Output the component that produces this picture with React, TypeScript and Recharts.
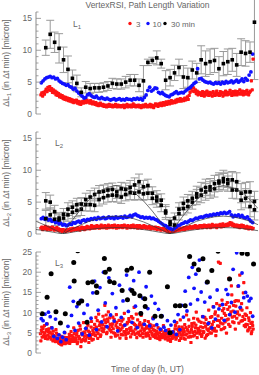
import React from 'react';
import { ComposedChart, Scatter, XAxis, YAxis, ErrorBar } from 'recharts';

const AX = '#8a8a8a';
const TXT = '#666';
const FONT = '"Liberation Sans", Arial, sans-serif';

// ---------- ticks ----------
const xTicks = [0,1,2,3,4,5,6,7,8,9,10,11,12,13,14,15,16,17,18,19,20,21,22,23,24];
const y16Ticks = [0,1,2,3,4,5,6,7,8,9,10,11,12,13,14,15,16];
const y25Ticks = [0,1,2,3,4,5,6,7,8,9,10,11,12,13,14,15,16,17,18,19,20,21,22,23,24,25];

// ---------- panel 1 (L1) ----------
// 3-min series sampled every 0.1 h starting 0.05 h
const l1Red = [
  3.0,3.3,2.8,3.4,3.1,3.6,3.9,3.5,4.2,3.8,
  4.3,3.7,4.0,3.4,3.8,3.3,3.6,3.0,3.4,2.9,
  3.2,2.7,3.0,2.6,2.9,2.4,2.7,2.3,2.6,2.2,
  2.5,2.1,2.4,2.0,2.3,1.9,2.2,1.8,2.1,1.9,
  2.2,1.7,2.0,1.6,1.9,1.5,1.8,2.0,1.7,1.9,
  2.1,1.8,2.2,1.9,2.0,1.7,2.1,1.8,1.6,1.9,
  1.7,1.5,1.8,1.4,1.6,1.3,1.5,1.7,1.4,1.3,
  1.5,1.2,1.4,1.3,1.1,1.4,1.2,1.5,1.3,1.2,
  1.4,1.1,1.3,1.2,1.5,1.3,1.1,1.4,1.2,1.3,
  1.1,1.3,1.2,1.4,1.0,1.3,1.2,1.5,1.1,1.3,
  1.2,1.4,1.1,1.3,1.6,1.2,1.4,1.1,1.3,1.2,
  1.4,1.1,1.3,1.0,1.2,1.4,1.1,1.3,1.5,1.2,
  1.1,1.3,1.2,1.5,1.1,1.4,1.2,1.0,1.3,1.6,
  1.3,1.5,1.2,1.6,1.4,1.7,1.3,1.5,1.8,1.4,
  1.6,1.9,1.5,1.7,2.0,1.6,1.8,2.1,1.7,1.9,
  2.0,1.8,2.2,1.9,2.3,2.0,2.1,2.4,2.0,2.2,
  2.3,2.1,2.5,2.2,2.4,2.7,2.3,2.9,3.4,3.9,
  4.3,3.6,4.1,3.5,3.8,3.2,3.6,3.0,3.4,3.1,
  3.3,2.9,3.5,3.1,2.8,3.4,3.0,3.6,3.2,2.9,
  3.4,3.0,3.3,2.8,3.5,3.1,2.9,3.3,3.6,3.0,
  3.2,2.9,3.5,3.1,3.4,2.8,3.3,3.0,3.6,3.2,
  3.0,3.4,3.1,3.7,3.2,2.9,3.5,3.3,3.0,3.6,
  3.3,3.0,3.5,3.2,3.8,3.1,3.4,3.6,3.0,3.3,
  3.5,3.1,3.7,3.3,3.0,3.4,3.6,5.2,3.8,8.6,
];
// 10-min series sampled every 0.2 h starting 0.1 h
const l1Blue = [
  4.9,5.2,5.5,5.7,5.8, 5.9,5.7,5.8,5.5,5.6, 5.2,5.0,4.8,4.7,4.5, 4.6,4.3,4.2,3.9,4.0,
  3.6,3.3,3.1,2.8,2.5, 2.6,3.0,3.2,2.9,2.7, 2.6,2.8,2.5,2.4,2.6, 2.4,2.3,2.5,2.3,2.2,
  2.3,2.4,2.2,2.3,2.4, 2.2,2.3,2.2,2.4,2.3, 2.3,2.2,2.4,2.3,2.5, 2.3,2.4,2.2,2.6,3.0,
  3.7,4.2,3.6,3.8,4.1, 4.0,3.4,3.2,3.4,3.1, 2.9,2.8,2.7,3.0,3.1, 3.3,3.5,3.2,3.3,3.4,
  3.3,3.6,3.8,4.0,4.2, 4.5,4.8,5.0,7.1,5.5, 5.6,5.3,5.1,5.0,4.9, 5.0,4.8,4.7,4.9,4.8,
  4.9,4.7,5.0,4.8,5.1, 4.9,5.0,5.2,4.9,5.1, 5.3,5.0,5.2,5.5,5.1, 5.6,5.3,6.1,6.6,9.4,
];
// 30-min series at 0.6 h + 0.5 h steps, with error bars
const l1Black = [
  10.4,12.5,11.25,10.3,8.5,7.0,5.6,4.8,3.4,4.2,4.0,4.1,4.1,4.2,4.4,4.8,4.7,4.7,5.0,5.3,5.3,4.5,5.2,
  8.1,8.4,8.8,7.9,5.3,5.7,6.45,7.3,5.8,5.7,6.9,6.45,8.5,7.9,8.2,8.4,7.1,7.9,8.2,8.5,7.7,9.7,9.5,9.7,14.4,
];
const l1BlackErr = [
  1.2,2.2,1.6,2.3,2.0,2.1,1.3,1.3,0.7,0.9,0.8,0.7,0.7,0.7,0.7,0.8,0.8,0.8,0.9,0.9,0.9,1.0,2.4,
  0.5,0.5,1.1,0.7,1.5,1.3,1.2,1.3,1.8,1.5,1.4,1.5,2.2,2.0,2.0,1.9,1.9,1.9,2.0,1.8,1.8,2.1,2.0,1.6,9.0,
];

// ---------- panel 2 (L2) ----------
const l2Red = [
  0.9,1.1,0.7,1.0,0.8,1.2,0.9,0.7,1.1,0.8,
  1.0,0.7,0.9,1.1,0.8,0.6,0.9,0.7,1.0,0.6,
  0.8,0.5,0.7,0.6,0.4,0.7,0.5,0.6,0.4,0.6,
  0.5,0.7,0.6,0.8,0.5,0.7,0.9,0.6,0.8,0.7,
  0.9,0.7,1.0,0.8,0.6,0.9,1.1,0.8,1.0,0.7,
  1.0,0.8,1.2,0.9,1.1,0.8,1.0,1.3,0.9,1.1,
  1.2,0.9,1.1,1.3,1.0,1.2,0.9,1.1,1.4,1.0,
  1.2,1.0,1.3,1.1,0.9,1.2,1.4,1.0,1.2,1.1,
  1.3,1.0,1.2,1.4,1.1,0.9,1.2,1.3,1.0,1.2,
  1.1,1.3,1.0,1.2,1.4,1.1,1.2,0.9,1.3,1.1,
  1.2,1.0,1.3,1.1,1.4,1.0,1.2,1.1,1.3,0.9,
  1.1,1.3,1.0,1.2,0.9,1.1,1.3,1.0,1.2,0.9,
  1.1,0.9,1.2,1.0,0.8,1.1,0.9,1.0,0.8,1.1,
  0.9,0.7,1.0,0.8,0.9,0.6,0.8,0.7,0.9,0.6,
  0.7,0.5,0.6,0.4,0.6,0.3,0.5,0.4,0.6,0.5,
  0.4,0.6,0.5,0.7,0.6,0.8,0.6,0.7,0.9,0.7,
  0.8,1.0,0.7,0.9,1.1,0.8,1.0,0.9,1.2,0.9,
  1.1,0.9,1.2,1.0,1.3,1.1,0.9,1.2,1.0,1.3,
  1.1,1.3,1.0,1.2,1.4,1.1,1.3,1.0,1.2,1.4,
  1.2,1.0,1.3,1.5,1.1,1.3,1.2,1.4,1.0,1.3,
  1.4,1.2,1.5,1.1,1.3,1.6,1.2,1.4,1.3,1.5,
  1.3,1.6,1.4,1.8,1.5,1.7,1.3,1.5,1.2,1.4,
  1.2,1.4,1.1,1.3,1.0,1.2,1.4,1.1,1.3,1.0,
  1.1,0.9,1.2,1.0,0.8,1.1,0.9,1.0,0.8,0.9,
];
const l2Blue = [
  2.4,2.6,2.3,2.5,2.2, 2.3,2.0,2.1,1.8,1.9, 1.6,1.7,1.4,1.5,1.3, 1.4,1.6,1.5,1.8,1.7,
  1.9,2.0,1.8,2.1,2.2, 2.0,2.3,2.2,2.4,2.3, 2.5,2.3,2.6,2.4,2.5, 2.6,2.4,2.5,2.7,2.5,
  2.6,2.4,2.7,2.5,2.6, 2.7,2.5,2.8,2.6,2.7, 2.9,2.7,3.0,3.1,2.9, 2.8,2.6,2.7,2.5,2.6,
  2.5,2.6,2.4,2.5,2.3, 2.2,2.0,1.8,1.6,1.4, 1.3,1.1,0.9,0.8,0.7, 0.9,1.1,1.3,1.4,1.6,
  1.7,1.9,1.8,2.0,2.2, 2.1,2.3,2.5,2.4,2.6, 2.7,2.6,2.8,2.9,2.8, 3.0,2.9,3.1,3.0,3.2,
  3.1,3.3,3.2,3.4,3.2, 3.3,3.5,3.0,2.7,2.9, 2.8,3.0,2.7,2.9,2.6, 2.5,2.7,2.3,2.0,1.8,
];
const l2BlackUpper = [
  5.2,5.0,3.5,2.5,3.1,3.9,4.2,4.6,4.7,5.4,5.8,6.2,6.6,6.7,6.9,7.0,6.6,7.1,7.0,7.3,7.7,8.2,7.4,
  7.6,6.4,5.8,5.3,3.6,1.9,2.5,3.9,4.8,5.2,5.6,6.3,6.9,7.3,7.4,7.9,8.3,8.7,8.5,8.5,8.2,6.4,6.6,6.6,5.1,
];
const l2BlackLower = [
  2.4,3.0,2.3,2.2,2.5,3.0,3.4,3.7,3.9,4.6,4.6,4.5,5.4,5.7,6.0,6.1,6.0,5.8,6.2,6.5,6.4,6.6,6.3,
  6.4,5.6,5.2,4.5,3.3,1.5,1.4,3.2,4.0,4.3,5.0,5.8,6.1,6.6,6.9,7.1,8.0,8.2,7.9,6.9,6.9,5.3,5.6,4.3,3.8,
];
const l2BlackErr = [
  1.3,1.1,1.0,0.8,0.9,1.0,1.0,1.0,1.0,1.0,1.0,1.0,1.0,1.0,1.0,1.0,1.0,1.0,1.0,1.1,1.1,1.2,1.0,
  1.0,1.0,1.0,1.0,1.0,0.7,0.8,1.0,1.0,1.0,1.1,1.2,1.2,1.3,1.3,1.3,1.3,1.3,1.2,1.3,1.4,1.5,1.5,1.6,1.6,
];
// model curves (thin lines)
const modelT = [-0.5,0.5,1.5,2.5,3.5,4.5,5.5,6.5,7.5,8.5,9.5,10.5,11.6,12.6,13.6,14.6,15.6,16.6,17.6,18.6,19.6,20.6,21.6,22.6,23.6,24.5];
const modelBlack = [null,null,null,0,2.0,3.8,5.4,6.6,7.3,7.6,7.3,6.6,5.2,3.6,1.8,0,2.0,3.8,5.4,6.6,7.3,7.6,7.3,6.6,5.4,4.0];
const modelBlue = [2.0,1.4,0.73,0,0.73,1.4,2.0,2.4,2.7,2.8,2.7,2.4,1.9,1.3,0.67,0,0.73,1.4,2.0,2.4,2.7,2.8,2.7,2.4,2.0,1.46];
const modelRed = [0.71,0.5,0.26,0,0.26,0.5,0.71,0.87,0.97,1.0,0.97,0.87,0.69,0.48,0.24,0,0.26,0.5,0.71,0.87,0.97,1.0,0.97,0.87,0.71,0.52];

// ---------- panel 3 (L3) ----------
// two interleaved halves of the 3-min series (t = 0.05 + 0.1k and t = 0.0 + 0.1k)
const l3Red = [
  3.0,6.4,5.2,4.1,6.8,3.6,5.5,7.2,4.4,6.0,
  5.0,3.8,6.3,4.6,5.4,3.3,4.0,5.8,3.1,4.5,
  2.6,3.5,2.2,4.1,2.9,2.4,3.2,5.0,2.7,3.8,
  2.5,3.4,4.6,2.8,5.3,3.1,4.0,6.2,2.9,3.7,
  4.4,2.3,5.6,3.5,6.8,1.6,4.9,3.2,7.5,4.1,
  3.0,5.7,4.3,6.9,2.6,5.1,3.8,7.8,4.6,3.4,
  6.1,4.4,8.8,5.2,3.6,9.6,6.8,4.1,7.3,5.5,
  9.1,6.0,11.8,7.5,4.8,8.4,10.2,5.9,7.1,3.9,
  6.6,8.9,5.0,7.7,4.2,9.5,6.3,5.4,8.1,3.7,
  5.8,7.9,4.5,6.7,9.8,5.1,3.6,7.2,4.9,8.5,
  6.1,4.0,9.0,5.5,7.4,11.3,4.6,6.8,3.8,8.2,
  5.2,7.0,4.3,9.3,6.2,3.9,5.7,8.0,4.8,6.6,
  4.5,7.8,5.9,3.6,6.9,4.9,8.7,4.1,5.6,3.8,
  5.0,3.7,6.3,4.2,3.3,5.6,4.6,3.9,6.8,4.4,
  3.5,5.1,4.0,3.2,5.8,4.3,2.9,4.8,3.6,5.3,
  4.1,6.0,3.4,7.5,4.7,5.5,3.1,8.2,4.4,6.4,
  5.0,3.6,7.0,4.5,9.4,5.8,3.9,6.6,4.2,2.6,
  7.3,5.1,8.6,4.4,6.2,10.1,3.8,5.6,7.9,4.7,
  6.5,4.1,9.0,5.3,7.4,3.7,8.3,5.9,4.6,10.6,
  6.0,8.8,4.9,7.1,11.5,5.5,9.6,4.3,12.2,6.7,
  22.5,8.0,22.2,5.8,13.1,7.2,11.0,6.3,9.3,4.9,
  12.5,8.4,18.5,6.6,10.2,14.4,7.7,11.8,9.1,5.9,
  13.0,9.8,16.5,7.4,19.3,10.9,12.2,8.0,14.9,6.8,
  9.6,7.1,11.2,5.5,8.7,6.3,10.0,4.8,7.6,5.9,
];
const l3Red2 = [
  4.8,5.6,3.9,6.1,4.5,5.0,4.2,5.8,3.5,5.3,
  4.0,5.2,3.4,4.7,3.0,4.3,3.7,2.8,4.9,3.2,
  3.0,2.4,3.6,2.7,2.0,3.1,2.5,3.9,2.3,3.4,
  3.1,2.6,3.8,2.4,3.5,4.3,2.9,3.3,4.8,3.6,
  3.2,5.0,2.7,4.1,3.6,5.9,2.8,4.5,3.3,5.2,
  4.9,3.3,6.2,4.0,5.4,3.6,4.5,6.4,3.2,5.6,
  5.0,7.1,4.3,6.4,8.0,4.8,5.7,7.6,4.5,6.2,
  7.0,5.3,8.2,6.6,9.4,5.1,7.8,6.3,8.7,5.6,
  5.2,7.2,6.0,8.3,4.8,6.8,7.6,4.4,6.1,5.5,
  7.0,4.6,6.2,8.4,5.3,6.9,4.4,5.8,7.6,5.0,
  7.8,5.6,6.3,4.7,8.6,5.2,7.1,5.9,9.6,4.9,
  6.4,4.6,7.5,5.5,6.9,4.8,7.2,5.6,6.0,4.2,
  6.2,5.0,4.3,7.1,5.3,6.3,4.4,5.8,6.7,4.7,
  4.3,5.4,4.8,3.6,5.0,4.1,5.7,3.8,4.6,5.2,
  4.4,3.8,4.7,5.5,3.9,4.6,3.4,5.0,4.2,3.9,
  5.2,4.6,6.8,3.8,5.9,4.3,6.5,5.1,3.6,5.6,
  4.4,6.0,5.3,3.4,6.3,4.7,5.5,8.2,5.1,4.0,
  5.8,6.6,4.2,7.4,5.3,6.9,4.9,8.4,6.1,5.2,
  5.5,7.6,4.6,6.3,5.1,8.8,6.6,4.3,7.1,5.6,
  7.5,5.0,6.4,9.0,5.8,7.8,6.1,10.2,5.4,8.1,
  9.2,6.6,11.8,7.4,8.6,10.5,6.0,9.8,7.7,12.0,
  8.2,10.8,7.1,11.4,9.5,16.6,8.9,10.4,7.5,12.8,
  11.6,8.6,10.2,12.9,9.4,11.1,7.9,10.6,9.0,17.4,
  8.3,6.5,9.3,7.0,5.7,8.0,6.2,7.3,5.3,6.8,
];
const l3Blue = [
  8.5,8.0,9.6,7.2,10.1, 9.0,6.2,4.1,8.4,3.6, 4.5,2.8,3.9,5.1,3.3, 6.6,16.3,9.3,12.8,5.6,
  11.5,7.4,13.0,4.7,9.8, 6.1,11.9,4.4,8.6,14.9, 17.8,5.8,10.6,16.2,7.7, 20.0,12.4,6.5,18.6,9.4,
  14.7,7.9,11.2,5.5,16.8, 8.8,12.9,6.9,19.3,10.3, 15.8,7.6,17.9,11.6,6.3, 20.0,9.9,13.6,7.1,16.4,
  11.0,6.7,14.1,8.5,12.3, 7.0,10.8,5.9,9.2,6.4, 5.6,8.0,4.9,6.9,5.2, 7.8,4.6,9.5,5.8,11.8,
  8.9,15.3,10.4,18.7,12.1, 21.2,16.0,19.5,13.2,23.0, 15.1,9.0,12.6,17.4,7.3, 13.8,6.2,11.4,8.4,15.6,
  10.9,25.5,12.0,8.1,15.7, 14.5,9.5,12.5,20.7,10.1, 24.8,16.6,11.3,19.8,13.7, 15.0,14.1,12.9,13.5,9.1,
];
const l3BlackT = [
  0.2,0.75,1.2,1.75,2.25,2.8,3.75,3.8,4.2,4.3,4.65,5.25,5.35,5.85,6.3,6.35,7.2,7.3,7.75,7.8,
  8.3,9.2,9.75,9.8,10.25,10.3,10.55,11.2,11.3,11.75,11.8,12.3,12.9,13.6,14.3,14.6,15.2,15.7,16.3,16.8,
  17.3,17.8,18.3,18.8,19.3,20.0,21.3,22.7,23.3,24.0,
];
const l3BlackV = [
  9.7,13.8,19.6,10.2,7.4,9.7,22.4,17.8,25.3,12.3,12.9,7.6,17.4,17.6,16.6,15.0,23.4,20.0,20.7,17.7,
  17.4,15.5,20.5,13.2,21.0,15.5,14.7,14.2,9.8,13.4,11.5,20.0,9.1,9.1,16.4,5.0,11.7,11.7,11.7,23.9,
  22.0,20.6,23.3,17.6,20.4,25.2,18.3,24.7,24.5,22.0,
];

// ---------- builders ----------
const seq = (t0: number, step: number, vals: number[]) =>
  vals.map((y, i) => ({ x: +(t0 + i * step).toFixed(3), y }));
const seqErr = (t0: number, step: number, vals: number[], errs: number[]) =>
  vals.map((y, i) => ({ x: +(t0 + i * step).toFixed(3), y, e: errs[i] }));
const pairs = (ts: number[], vs: (number | null)[]) =>
  ts.map((x, i) => ({ x, y: vs[i] })).filter((d) => d.y !== null) as { x: number; y: number }[];

// ---------- shapes ----------
const RedSq = (p: any) => <rect x={p.cx - 1.6} y={p.cy - 1.6} width={3.2} height={3.2} rx={0.7} fill="#ff1212" />;
const BlueDot = (p: any) => <circle cx={p.cx} cy={p.cy} r={1.9} fill="#1010ff" />;
const BlackSq = (p: any) => <rect x={p.cx - 1.8} y={p.cy - 1.8} width={3.6} height={3.6} fill="#000" />;
const BlackDot = (p: any) => <circle cx={p.cx} cy={p.cy} r={2.5} fill="#000" />;
const NoDot = () => <g />;

// ---------- axis ticks (inward, PGPLOT style) ----------
const tickStyle = { fontSize: 8.5, fill: TXT, fontFamily: FONT };
const BottomTick = (labels: boolean) => (p: any) => {
  const v = p.payload.value;
  const major = v % 5 === 0;
  return (
    <g>
      <line x1={p.x} x2={p.x} y1={p.y} y2={p.y - (major ? 5 : 2.5)} stroke={AX} strokeWidth={0.8} />
      {labels && major && (
        <text x={p.x} y={p.y + 13} textAnchor="middle" {...tickStyle}>{v}</text>
      )}
    </g>
  );
};
const TopTick = (p: any) => {
  const major = p.payload.value % 5 === 0;
  return <line x1={p.x} x2={p.x} y1={p.y} y2={p.y + (major ? 5 : 2.5)} stroke={AX} strokeWidth={0.8} />;
};
const LeftTick = (p: any) => {
  const v = p.payload.value;
  const major = v % 5 === 0;
  return (
    <g>
      <line x1={p.x} x2={p.x + (major ? 5 : 2.5)} y1={p.y} y2={p.y} stroke={AX} strokeWidth={0.8} />
      {major && (
        <text x={p.x - 4} y={p.y} dy="0.35em" textAnchor="end" {...tickStyle}>{v}</text>
      )}
    </g>
  );
};
const RightTick = (p: any) => {
  const major = p.payload.value % 5 === 0;
  return <line x1={p.x} x2={p.x - (major ? 5 : 2.5)} y1={p.y} y2={p.y} stroke={AX} strokeWidth={0.8} />;
};

type PanelProps = {
  top: number;
  height: number;
  bottom: number;
  yMax: number;
  yTicks: number[];
  xLabels: boolean;
  children: React.ReactNode;
};

function Panel({ top, height, bottom, yMax, yTicks, xLabels: showX, children }: PanelProps) {
  return (
    <div style={{ position: 'absolute', left: 0, top }}>
      <ComposedChart width={259} height={height} margin={{ top: 12, right: 1, bottom, left: 0 }}>
        <XAxis xAxisId="b" type="number" dataKey="x" orientation="bottom" domain={[-0.5, 24.5]}
          ticks={xTicks} interval={0} allowDataOverflow height={0} tickSize={0} tickMargin={0}
          tickLine={false} axisLine={{ stroke: AX, strokeWidth: 1 }} tick={BottomTick(showX)} />
        <XAxis xAxisId="t" type="number" orientation="top" domain={[-0.5, 24.5]}
          ticks={xTicks} interval={0} allowDataOverflow height={0} tickSize={0} tickMargin={0}
          tickLine={false} axisLine={{ stroke: AX, strokeWidth: 1 }} tick={TopTick} />
        <YAxis yAxisId="l" type="number" dataKey="y" orientation="left" domain={[0, yMax]}
          ticks={yTicks} interval={0} allowDataOverflow width={36} tickSize={0} tickMargin={0}
          tickLine={false} axisLine={{ stroke: AX, strokeWidth: 1 }} tick={LeftTick} />
        <YAxis yAxisId="r" type="number" orientation="right" domain={[0, yMax]}
          ticks={yTicks} interval={0} allowDataOverflow width={0} tickSize={0} tickMargin={0}
          tickLine={false} axisLine={{ stroke: AX, strokeWidth: 1 }} tick={RightTick} />
        {children}
      </ComposedChart>
    </div>
  );
}

const SubLabel = ({ x, y, idx }: { x: number; y: number; idx: string }) => (
  <text x={x} y={y} fontSize={8.5} fill={TXT} fontFamily={FONT}>
    L<tspan dy={2} fontSize={6}>{idx}</tspan>
  </text>
);

const YLabel = ({ cy, idx }: { cy: number; idx: string }) => (
  <text transform={`translate(8.5,${cy}) rotate(-90)`} textAnchor="middle" fontSize={8.5} fill={TXT} fontFamily={FONT}>
    ΔL<tspan dy={2} fontSize={6}>{idx}</tspan><tspan dy={-2}> (in Δt min) [micron]</tspan>
  </text>
);

export default function App() {
  const errStyle = { stroke: '#9a9a9a', strokeWidth: 1 };
  return (
    <div style={{ position: 'absolute', left: 0, top: 0, width: 259, height: 375, background: '#fff' }}>
      <Panel top={0} height={120} bottom={6} yMax={16} yTicks={y16Ticks} xLabels={false}>
        <Scatter xAxisId="b" yAxisId="l" data={seq(0.05, 0.1, l1Red)} shape={RedSq} isAnimationActive={false} />
        <Scatter xAxisId="b" yAxisId="l" data={seq(0.1, 0.2, l1Blue)} shape={BlueDot} isAnimationActive={false} />
        <Scatter xAxisId="b" yAxisId="l" data={seqErr(0.6, 0.5, l1Black, l1BlackErr)} shape={BlackSq} isAnimationActive={false}>
          <ErrorBar dataKey="e" direction="y" width={4} {...errStyle} />
        </Scatter>
      </Panel>
      <Panel top={120} height={120} bottom={6} yMax={16} yTicks={y16Ticks} xLabels={false}>
        <Scatter xAxisId="b" yAxisId="l" data={seq(0.05, 0.1, l2Red)} shape={RedSq} isAnimationActive={false} />
        <Scatter xAxisId="b" yAxisId="l" data={seq(0.1, 0.2, l2Blue)} shape={BlueDot} isAnimationActive={false} />
        <Scatter xAxisId="b" yAxisId="l" data={seqErr(0.6, 0.5, l2BlackLower, l2BlackErr)} shape={BlackSq} isAnimationActive={false}>
          <ErrorBar dataKey="e" direction="y" width={4} {...errStyle} />
        </Scatter>
        <Scatter xAxisId="b" yAxisId="l" data={seqErr(0.6, 0.5, l2BlackUpper, l2BlackErr)} shape={BlackSq} isAnimationActive={false}>
          <ErrorBar dataKey="e" direction="y" width={4} {...errStyle} />
        </Scatter>
        <Scatter xAxisId="b" yAxisId="l" data={pairs(modelT, modelRed)} shape={NoDot} line={{ stroke: '#333', strokeWidth: 0.7 }} lineType="joint" isAnimationActive={false} />
        <Scatter xAxisId="b" yAxisId="l" data={pairs(modelT, modelBlue)} shape={NoDot} line={{ stroke: '#333', strokeWidth: 0.7 }} lineType="joint" isAnimationActive={false} />
        <Scatter xAxisId="b" yAxisId="l" data={pairs(modelT, modelBlack)} shape={NoDot} line={{ stroke: '#333', strokeWidth: 0.7 }} lineType="joint" isAnimationActive={false} />
      </Panel>
      <Panel top={240} height={135} bottom={22} yMax={25} yTicks={y25Ticks} xLabels={true}>
        <Scatter xAxisId="b" yAxisId="l" data={seq(0.05, 0.1, l3Red)} shape={RedSq} isAnimationActive={false} />
        <Scatter xAxisId="b" yAxisId="l" data={seq(0.0, 0.1, l3Red2)} shape={RedSq} isAnimationActive={false} />
        <Scatter xAxisId="b" yAxisId="l" data={seq(0.1, 0.2, l3Blue)} shape={BlueDot} isAnimationActive={false} />
        <Scatter xAxisId="b" yAxisId="l" data={pairs(l3BlackT, l3BlackV)} shape={BlackDot} isAnimationActive={false} />
      </Panel>
      <svg width={259} height={375} style={{ position: 'absolute', left: 0, top: 0, pointerEvents: 'none' }}>
        <text x={147.5} y={7.5} textAnchor="middle" fontSize={8.5} fill={TXT} fontFamily={FONT}>
          VertexRSI, Path Length Variation
        </text>
        <circle cx={130} cy={23.5} r={1.7} fill="#ff1212" />
        <text x={136} y={26.5} fontSize={8} fill={TXT} fontFamily={FONT}>3</text>
        <circle cx={148} cy={23.5} r={1.7} fill="#1010ff" />
        <text x={152.5} y={26.5} fontSize={8} fill={TXT} fontFamily={FONT}>10</text>
        <circle cx={165} cy={23.5} r={1.7} fill="#000" />
        <text x={171} y={26.5} fontSize={8} fill={TXT} fontFamily={FONT}>30 min</text>
        <SubLabel x={73} y={27} idx="1" />
        <SubLabel x={55} y={146} idx="2" />
        <SubLabel x={55} y={266} idx="3" />
        <YLabel cy={63} idx="1" />
        <YLabel cy={183} idx="2" />
        <YLabel cy={302} idx="3" />
        <text x={147.5} y={372} textAnchor="middle" fontSize={8.5} fill={TXT} fontFamily={FONT}>
          Time of day (h, UT)
        </text>
      </svg>
    </div>
  );
}
